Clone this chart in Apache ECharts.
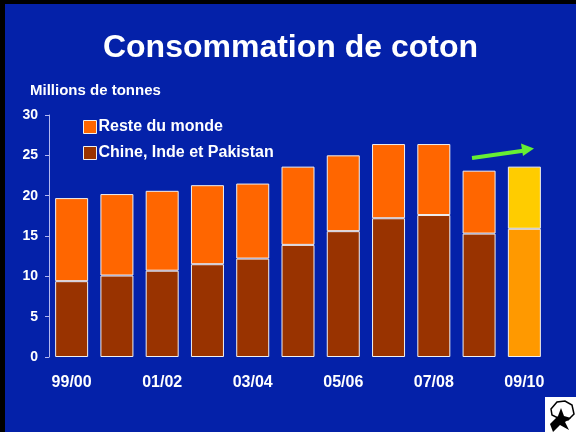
<!DOCTYPE html>
<html>
<head>
<meta charset="utf-8">
<script src="https://cdn.jsdelivr.net/npm/echarts@6/dist/echarts.min.js"></script>
<style>
    html, body { margin: 0; padding: 0; background: #000; }
    #chart {
        position: absolute;
        left: 5px;
        top: 4px;
        width: 571px;
        height: 428px;
    }
</style>
</head>
<body>
<div id="chart"></div>
<script>
// saisons
var categories = ['99/00', '00/01', '01/02', '02/03', '03/04', '04/05', '05/06', '06/07', '07/08', '08/09', '09/10'];
// Chine, Inde et Pakistan (millions de tonnes)
var cip = [9.4, 10.1, 10.7, 11.5, 12.2, 13.9, 15.6, 17.2, 17.6, 15.3, 15.9];
// Reste du monde
var reste = [10.3, 10.1, 9.9, 9.8, 9.3, 9.7, 9.4, 9.2, 8.8, 7.8, 7.7];
var yTicks = [0, 5, 10, 15, 20, 25, 30];

var myChart = echarts.init(document.getElementById('chart'));

// la derniere saison (prevision) a ses propres couleurs
function withLast(values, color) {
    return values.map(function (v, i) {
        if (i === values.length - 1) {
            return { value: v, itemStyle: { color: color } };
        }
        return v;
    });
}

var option = {
    backgroundColor: '#0421a9',
    animation: false,
    title: [
        {
            text: 'Consommation de coton',
            left: 'center',
            top: 23,
            textStyle: {
                color: '#fff',
                fontFamily: 'Liberation Sans, Arial',
                fontWeight: 'bold',
                fontSize: 32
            }
        },
        {
            text: 'Millions de tonnes',
            left: 20,
            top: 74,
            textStyle: {
                color: '#fff',
                fontFamily: 'Liberation Sans, Arial',
                fontWeight: 'bold',
                fontSize: 15
            }
        }
    ],
    legend: {
        orient: 'vertical',
        left: 73,
        top: 110,
        itemWidth: 13,
        itemHeight: 13,
        itemGap: 10,
        icon: 'rect',
        data: ['Reste du monde', 'Chine, Inde et Pakistan'],
        itemStyle: { borderColor: '#f0f0f0', borderWidth: 1 },
        textStyle: {
            color: '#fff',
            fontFamily: 'Liberation Sans, Arial',
            fontWeight: 'bold',
            fontSize: 16,
            padding: [0, 0, 0, -3]
        }
    },
    grid: {
        left: 44,
        right: 29,
        top: 111,
        bottom: 75
    },
    xAxis: {
        type: 'category',
        data: categories,
        axisLine: { show: false },
        axisTick: { show: false },
        axisLabel: {
            interval: 1,
            color: '#fff',
            fontFamily: 'Liberation Sans, Arial',
            fontWeight: 'bold',
            fontSize: 16,
            margin: 18
        }
    },
    yAxis: {
        type: 'value',
        min: yTicks[0],
        max: yTicks[yTicks.length - 1],
        interval: 5,
        axisLine: { show: true, lineStyle: { color: '#b4b8f0', width: 1 } },
        axisTick: { show: true, length: 4, lineStyle: { color: '#b4b8f0' } },
        splitLine: { show: false },
        axisLabel: {
            color: '#fff',
            fontFamily: 'Liberation Sans, Arial',
            fontWeight: 'bold',
            fontSize: 14,
            margin: 11
        }
    },
    series: [
        {
            name: 'Chine, Inde et Pakistan',
            type: 'bar',
            stack: 'total',
            barWidth: 33,
            data: withLast(cip, '#ff9900'),
            itemStyle: { color: '#993300', borderColor: '#f0f0f0', borderWidth: 1 }
        },
        {
            name: 'Reste du monde',
            type: 'bar',
            stack: 'total',
            barWidth: 33,
            data: withLast(reste, '#ffcc00'),
            itemStyle: { color: '#ff6600', borderColor: '#f0f0f0', borderWidth: 1 }
        }
    ],
    graphic: [
        // fleche verte
        {
            type: 'line',
            shape: { x1: 467, y1: 154, x2: 520, y2: 146.5 },
            style: { stroke: '#66ee33', lineWidth: 4 }
        },
        {
            type: 'polygon',
            shape: { points: [[529, 144.5], [516, 139.5], [518, 152]] },
            style: { fill: '#66ee33' }
        },
        // logo coton
        {
            type: 'rect',
            shape: { x: 540, y: 393, width: 31, height: 35 },
            style: { fill: '#fff' }
        },
        {
            type: 'polygon',
            shape: { points: [[546, 405], [552, 398], [560, 397], [567, 401], [569, 410], [563, 416], [553, 414], [547, 411]] },
            style: { fill: '#fff', stroke: '#000', lineWidth: 1.5 }
        },
        {
            type: 'polygon',
            shape: { points: [[545, 420], [553, 412], [556, 404], [559, 412], [566, 414], [560, 418], [564, 426], [555, 421], [548, 428]] },
            style: { fill: '#000' }
        }
    ]
};

myChart.setOption(option);
</script>
</body>
</html>
